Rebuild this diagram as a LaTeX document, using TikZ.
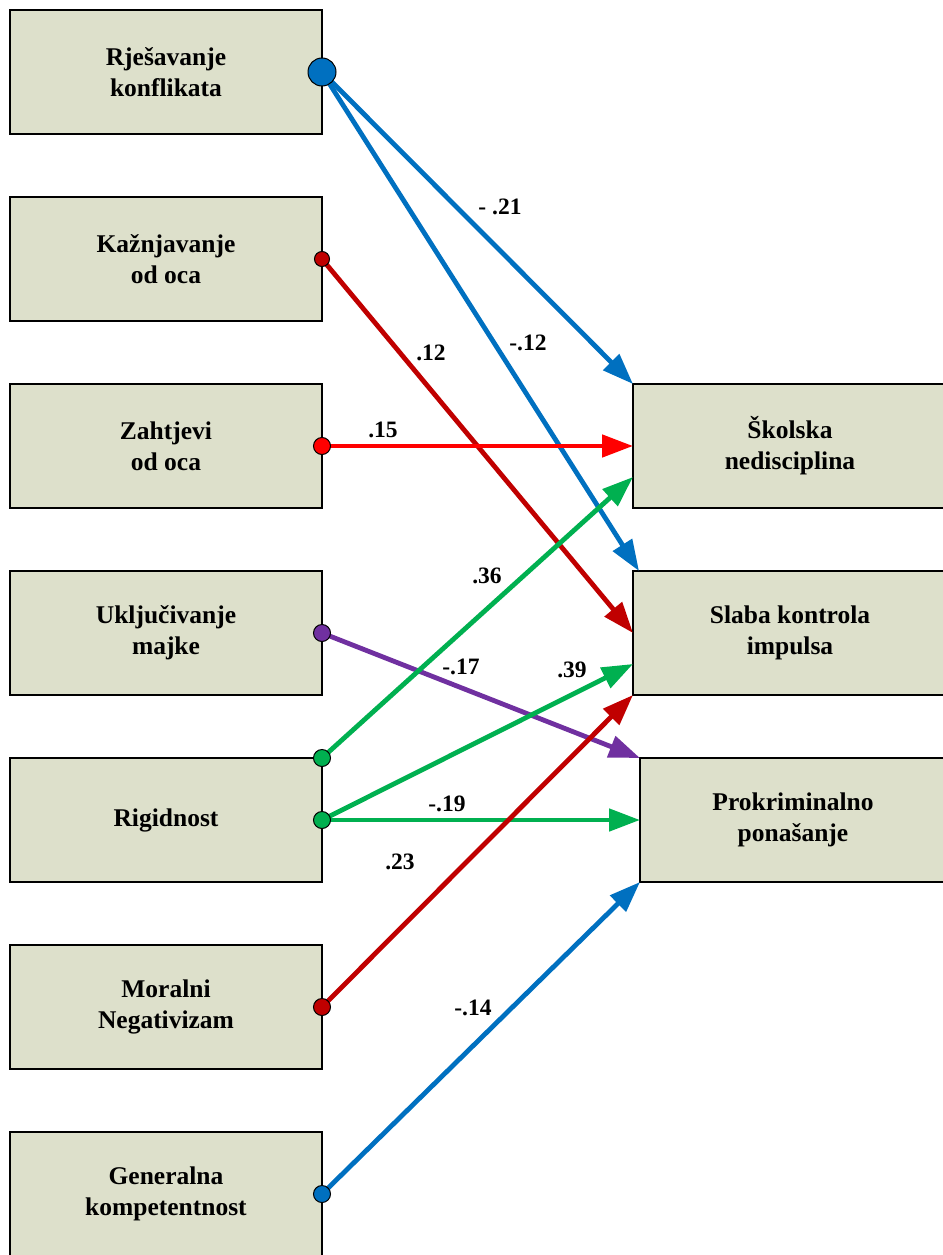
\documentclass[tikz,border=0pt]{standalone}
\usepackage{fontspec}
\setmainfont{Liberation Serif}
\usetikzlibrary{positioning}
\usetikzlibrary{calc}
\usetikzlibrary{arrows.meta}
\definecolor{boxfill}{RGB}{221,224,203}
\definecolor{cblue}{RGB}{0,112,192}
\definecolor{cdarkred}{RGB}{192,0,0}
\definecolor{cred}{RGB}{255,0,0}
\definecolor{cpurple}{RGB}{112,48,160}
\definecolor{cgreen}{RGB}{0,176,80}
\tikzset{
  factor/.style={draw=black,fill=boxfill,line width=1.2pt,outer sep=0pt,inner sep=0pt,
    minimum width=312pt,minimum height=124pt,align=center,
    font=\fontsize{25.5}{31}\selectfont\bfseries},
  outcome/.style={factor,minimum width=314pt},
  effect/.style={line width=4.8pt,-{Triangle[length=31pt,width=22pt]}},
  dot/.style={circle,draw=black,line width=1pt,inner sep=0pt,minimum size=17pt},
  coef/.style={font=\fontsize{23.5}{28}\selectfont\bfseries,inner sep=1pt}
}
\begin{document}
\begin{tikzpicture}[x=1pt,y=-1pt]
    \useasboundingbox (0,0) rectangle (942,1255);
    \node[factor] (rjes) at (166,72) {Rješavanje\\konflikata};
    \node[factor,below = 63pt of rjes] (kazn) {Kažnjavanje\\od oca};
    \node[factor,below = 63pt of kazn] (zaht) {Zahtjevi\\od oca};
    \node[factor,below = 63pt of zaht] (uklj) {Uključivanje\\majke};
    \node[factor,below = 63pt of uklj] (rigi) {Rigidnost};
    \node[factor,below = 63pt of rigi] (mora) {Moralni\\Negativizam};
    \node[factor,below = 63pt of mora] (gene) {Generalna\\kompetentnost};
    \node[outcome,right = 311pt of zaht] (skol) {Školska\\nedisciplina};
    \node[outcome,right = 311pt of uklj] (slab) {Slaba kontrola\\impulsa};
    \node[outcome,right = 318pt of rigi,minimum width=306pt] (prok) {Prokriminalno\\ponašanje};
    \draw[effect,cblue] (rjes.east) -- (skol.north west);
    \draw[effect,cblue] (rjes.east) -- ([xshift=6pt]slab.north west);
    \draw[effect,cdarkred] (kazn.east) -- (slab.west);
    \draw[effect,cred] (zaht.east) -- (skol.west);
    \draw[effect,cpurple] (uklj.east) -- (prok.north west);
    \draw[effect,cgreen] (rigi.north east) -- ($(skol.west)!0.5!(skol.south west)$);
    \draw[effect,cgreen] (rigi.east) -- ($(slab.west)!0.5!(slab.south west)$);
    \draw[effect,cgreen] (rigi.east) -- (prok.west);
    \draw[effect,cdarkred] (mora.east) -- (slab.south west);
    \draw[effect,cblue] (gene.east) -- (prok.south west);
    \node[dot,fill=cblue,minimum size=28pt] (drjes) at (rjes.east) {};
    \node[dot,fill=cdarkred,minimum size=15pt] (dkazn) at (kazn.east) {};
    \node[dot,fill=cred] (dzaht) at (zaht.east) {};
    \node[dot,fill=cpurple] (duklj) at (uklj.east) {};
    \node[dot,fill=cgreen] (drigi1) at (rigi.north east) {};
    \node[dot,fill=cgreen] (drigi2) at (rigi.east) {};
    \node[dot,fill=cdarkred] (dmora) at (mora.east) {};
    \node[dot,fill=cblue] (dgene) at (gene.east) {};
    \node[coef] (c1) at (500,207) {- .21};
    \node[coef] (c2) at (528,343) {-.12};
    \node[coef] (c3) at (431,353) {.12};
    \node[coef] (c4) at (383,430) {.15};
    \node[coef] (c5) at (487,576) {.36};
    \node[coef] (c6) at (461,667) {-.17};
    \node[coef] (c7) at (572,670) {.39};
    \node[coef] (c8) at (447,804) {-.19};
    \node[coef] (c9) at (400,862) {.23};
    \node[coef] (c10) at (473,1008) {-.14};
  \end{tikzpicture}
\end{document}
